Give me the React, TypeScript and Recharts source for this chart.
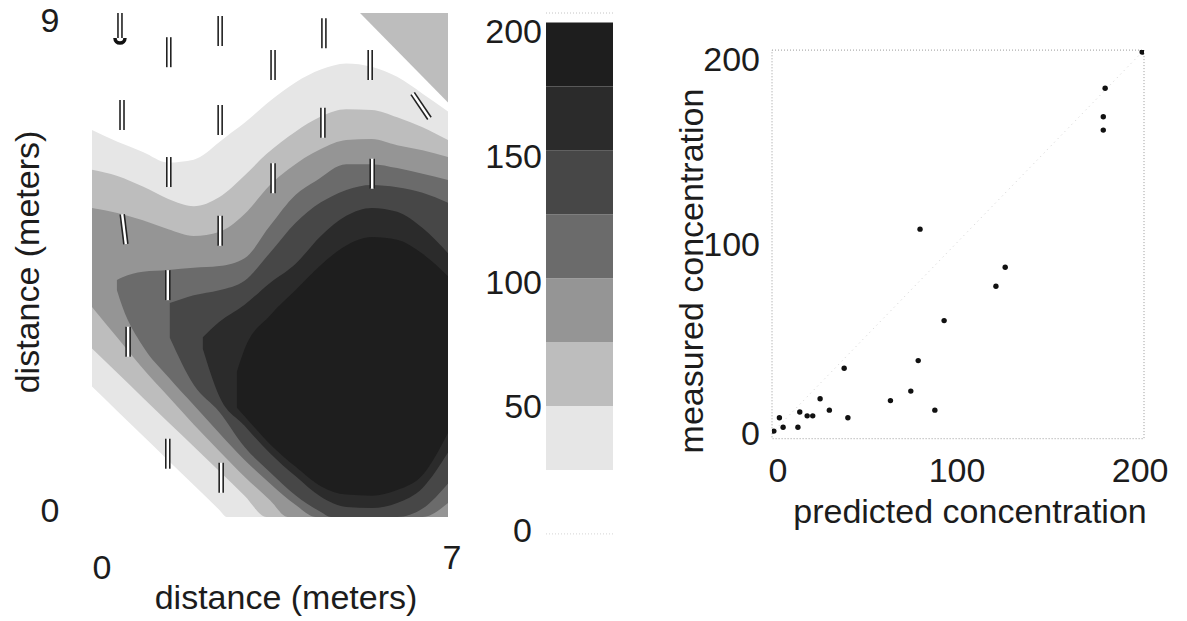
import {
  ComposedChart,
  Area,
  Scatter,
  ScatterChart,
  BarChart,
  Bar,
  XAxis,
  YAxis,
  Label,
  ReferenceLine,
  ReferenceArea,
} from 'recharts'

const FONT = '"Liberation Sans", Arial, Helvetica, sans-serif'
const INK = '#1c1c1c'
const FS = 34

// contour fills, lowest level first (25, 50, 75, 100, 125, 150, 175)
const levelFill = ['#e6e6e6', '#bdbdbd', '#959595', '#6b6b6b', '#474747', '#2b2b2b', '#1e1e1e']

// filled contour regions: x (m), lower edge and upper edge (m)
const x25 = [0, 0.5, 1, 1.5, 2, 2.5, 2.65, 3, 3.5, 4, 4.5, 5, 5.5, 6, 6.5, 7]
const lo25 = [2.33, 1.89, 1.45, 1.01, 0.57, 0.13, 0, 0, 0, 0, 0, 0, 0, 0, 0, 0]
const hi25 = [6.91, 6.7, 6.52, 6.33, 6.38, 6.69, 6.8, 7.04, 7.43, 7.76, 7.99, 8.1, 8.04, 7.86, 7.56, 7.24]

const x50 = [0, 0.5, 1, 1.5, 2, 2.5, 3, 3.43, 4, 4.5, 5, 5.5, 6, 6.5, 7]
const lo50 = [3.01, 2.57, 2.13, 1.69, 1.26, 0.82, 0.38, 0, 0, 0, 0, 0, 0, 0, 0]
const hi50 = [6.2, 6.09, 5.9, 5.68, 5.55, 5.71, 6.1, 6.48, 6.88, 7.15, 7.28, 7.27, 7.14, 6.96, 6.73]

const x75 = [0, 0.5, 1, 1.5, 2, 2.5, 3, 3.5, 3.85, 4.5, 5, 5.5, 6, 6.5, 7]
const lo75 = [3.75, 3.2, 2.65, 2.15, 1.65, 1.18, 0.72, 0.3, 0, 0, 0, 0, 0, 0, 0]
const hi75 = [5.52, 5.43, 5.3, 5.14, 5.02, 5.09, 5.41, 5.93, 6.2, 6.57, 6.73, 6.75, 6.64, 6.55, 6.43]

const x100 = [0.49, 0.6, 1, 1.5, 2, 2.5, 3, 3.5, 4, 4.4, 5, 5.5, 6, 6.5, 7]
const lo100 = [4.05, 3.75, 3.05, 2.5, 2.0, 1.5, 1.02, 0.6, 0.22, 0, 0, 0, 0, 0, 0.25]
const hi100 = [4.23, 4.28, 4.38, 4.41, 4.45, 4.48, 4.62, 5.2, 5.75, 6.0, 6.3, 6.3, 6.23, 6.13, 6.02]

const x125 = [1.53, 2, 2.5, 3, 3.5, 4, 4.5, 4.7, 5, 5.5, 6, 6.5, 7]
const lo125 = [3.2, 2.36, 1.88, 1.25, 0.8, 0.39, 0.09, 0, 0, 0, 0, 0.15, 0.6]
const hi125 = [3.82, 3.96, 4.05, 4.22, 4.72, 5.25, 5.62, 5.72, 5.84, 5.93, 5.89, 5.79, 5.61]

const x150 = [2.18, 2.5, 3, 3.5, 4, 4.5, 5, 5.5, 6, 6.5, 7]
const lo150 = [3.0, 2.16, 1.63, 1.14, 0.73, 0.36, 0.18, 0.16, 0.25, 0.52, 1.15]
const hi150 = [3.21, 3.48, 3.79, 4.18, 4.52, 5.02, 5.38, 5.52, 5.45, 5.16, 4.71]

const x175 = [2.85, 3, 3.5, 4, 4.5, 5, 5.5, 6, 6.5, 7]
const lo175 = [1.95, 1.8, 1.3, 0.9, 0.55, 0.4, 0.38, 0.48, 0.75, 1.5]
const hi175 = [2.6, 3.0, 3.6, 4.05, 4.5, 4.85, 5.0, 4.95, 4.7, 4.3]

// isolated patch in the top right corner
const xCorner = [5.27, 7]
const loCorner = [9, 7.4]
const hiCorner = [9, 9]

// sampling wells (m) and their tilt (deg)
const wellX = [0.55, 1.51, 2.52, 4.56, 3.56, 5.47, 0.59, 2.52, 4.54, 6.47, 1.51, 3.56, 5.51, 0.63, 2.52, 1.49, 0.71, 1.49, 2.54]
const wellY = [8.82, 8.3, 8.68, 8.64, 8.07, 8.07, 7.18, 7.09, 7.04, 7.34, 6.16, 6.05, 6.13, 5.14, 5.11, 4.14, 3.13, 1.13, 0.7]
const wellTilt = [0, 0, 0, 0, 0, 0, 0, 0, 0, -34, 0, 0, 0, -7, 0, 0, 0, 0, 0]
const sourceX = [0.55]
const sourceY = [8.48]

// colour bar
const cbLevels = [0, 25, 50, 75, 100, 125, 150, 175, 200]
const cbTicks = [0, 50, 100, 150, 200]

// predicted vs measured concentration
const predicted = [1, 4, 6, 14, 15, 19, 22, 26, 31, 39, 41, 64, 75, 79, 80, 88, 93, 121, 126, 179, 179, 180, 200]
const measured = [1, 8, 3, 3, 11, 9, 9, 18, 12, 34, 8, 17, 22, 38, 107, 12, 59, 77, 87, 159, 166, 181, 200]
const scatterTicks = [0, 100, 200]

const region = (xs: number[], lo: number[], hi: number[]) =>
  xs.map((x, i) => ({ x, range: [lo[i], hi[i]] }))

const regions = [
  region(x25, lo25, hi25),
  region(x50, lo50, hi50),
  region(x75, lo75, hi75),
  region(x100, lo100, hi100),
  region(x125, lo125, hi125),
  region(x150, lo150, hi150),
  region(x175, lo175, hi175),
]
const corner = region(xCorner, loCorner, hiCorner)
const wells = wellX.map((x, i) => ({ x, y: wellY[i], tilt: wellTilt[i] }))
const source = sourceX.map((x, i) => ({ x, y: sourceY[i] }))

const cbRow: Record<string, any> = { name: 'bar' }
cbLevels.slice(1).forEach((v, i) => {
  cbRow['s' + i] = v - cbLevels[i]
})
const cbFill = ['none', ...levelFill]

const points = predicted.map((p, i) => ({ p, m: measured[i] }))

const txt = { fontFamily: FONT, fontSize: FS, fill: INK }

function Well(props: any) {
  const { cx, cy, payload } = props
  if (cx == null || cy == null) return null
  return (
    <g transform={`rotate(${payload.tilt || 0} ${cx} ${cy})`}>
      <rect x={cx - 2} y={cy - 15} width={4} height={30} fill="#fff" />
      <line x1={cx - 2} y1={cy - 15} x2={cx - 2} y2={cy + 15} stroke="#222" strokeWidth={1.6} />
      <line x1={cx + 2} y1={cy - 15} x2={cx + 2} y2={cy + 15} stroke="#222" strokeWidth={1.6} />
    </g>
  )
}

function Source(props: any) {
  const { cx, cy } = props
  if (cx == null || cy == null) return null
  return (
    <path
      d={`M ${cx - 5} ${cy - 4} A 5 5 0 0 0 ${cx + 5} ${cy - 4}`}
      fill="none"
      stroke="#111"
      strokeWidth={3.5}
    />
  )
}

function Dot(props: any) {
  const { cx, cy } = props
  if (cx == null || cy == null) return null
  return <circle cx={cx} cy={cy} r={2.7} fill="#111" />
}

// tick labels: along-axis position from the axis scale, a small fixed nudge as in the original
const contourYTick = (props: any) => {
  const v = props.payload.value
  return (
    <text x={50} y={props.y + (v === 0 ? -7 : 7)} textAnchor="middle" dominantBaseline="central" {...txt}>
      {v}
    </text>
  )
}

const contourXTick = (props: any) => {
  const v = props.payload.value
  return (
    <text x={props.x + (v === 0 ? 10 : 4)} y={v === 0 ? 567 : 557} textAnchor="middle" dominantBaseline="central" {...txt}>
      {v}
    </text>
  )
}

const cbNudge: Record<number, number> = { 0: -4, 50: 0, 100: 4, 150: 6, 200: 9 }
const cbTick = (props: any) => {
  const v = props.payload.value
  return (
    <text x={v === 0 ? 532 : 542} y={props.y + (cbNudge[v] || 0)} textAnchor="end" dominantBaseline="central" {...txt}>
      {v}
    </text>
  )
}

const scYNudge: Record<number, number> = { 0: 0, 100: 2, 200: 7 }
const scatterYTick = (props: any) => {
  const v = props.payload.value
  return (
    <text x={760} y={props.y + (scYNudge[v] || 0)} textAnchor="end" dominantBaseline="central" {...txt}>
      {v}
    </text>
  )
}

const scXNudge: Record<number, number> = { 0: 6, 100: 0, 200: -2 }
const scatterXTick = (props: any) => {
  const v = props.payload.value
  return (
    <text x={props.x + (scXNudge[v] || 0)} y={470} textAnchor="middle" dominantBaseline="central" {...txt}>
      {v}
    </text>
  )
}

const layer = { position: 'absolute' as const, left: 0, top: 0 }

export default function App() {
  return (
    <div style={{ position: 'absolute', left: 0, top: 0, width: 1187, height: 621, background: '#fff', overflow: 'hidden' }}>
      {/* contour map */}
      <div style={layer}>
        <ComposedChart width={1187} height={621} margin={{ top: 13, right: 739, bottom: 0, left: 0 }}>
          <XAxis
            type="number"
            dataKey="x"
            domain={[0, 7]}
            ticks={[0, 7]}
            interval={0}
            allowDataOverflow
            height={104}
            axisLine={false}
            tickLine={false}
            tick={contourXTick}
          >
            <Label
              content={() => (
                <text x={286} y={609} textAnchor="middle" {...txt}>
                  distance (meters)
                </text>
              )}
            />
          </XAxis>
          <YAxis
            type="number"
            domain={[0, 9]}
            ticks={[0, 9]}
            interval={0}
            allowDataOverflow
            width={92}
            axisLine={false}
            tickLine={false}
            tick={contourYTick}
          >
            <Label
              content={() => (
                <text
                  x={27}
                  y={262}
                  transform="rotate(-90 27 262)"
                  textAnchor="middle"
                  dominantBaseline="central"
                  {...txt}
                >
                  distance (meters)
                </text>
              )}
            />
          </YAxis>
          {regions.map((data, i) => (
            <Area
              key={i}
              data={data}
              dataKey="range"
              type="monotone"
              stroke="none"
              fill={levelFill[i]}
              fillOpacity={1}
              isAnimationActive={false}
            />
          ))}
          <Area
            data={corner}
            dataKey="range"
            type="linear"
            stroke="none"
            fill={levelFill[1]}
            fillOpacity={1}
            isAnimationActive={false}
          />
          <Scatter data={wells} dataKey="y" shape={Well} isAnimationActive={false} />
          <Scatter data={source} dataKey="y" shape={Source} isAnimationActive={false} />
        </ComposedChart>
      </div>

      {/* colour bar */}
      <div style={layer}>
        <BarChart
          width={1187}
          height={621}
          data={[cbRow]}
          margin={{ top: 13, right: 574, bottom: 87.1, left: 480 }}
          barCategoryGap={0}
          barGap={0}
        >
          <XAxis dataKey="name" hide />
          <YAxis
            type="number"
            domain={[0, 203.7]}
            ticks={cbTicks}
            interval={0}
            allowDataOverflow
            width={66}
            axisLine={false}
            tickLine={false}
            tick={cbTick}
          />
          {cbFill.map((c, i) => (
            <Bar key={i} dataKey={'s' + i} stackId="cb" fill={c} isAnimationActive={false} />
          ))}
          <ReferenceLine y={203.7} stroke="#c4c4c4" strokeDasharray="1 2" />
          <ReferenceLine y={0} stroke="#d4d4d4" strokeDasharray="1 2" />
        </BarChart>
      </div>

      {/* predicted vs measured */}
      <div style={layer}>
        <ScatterChart width={1187} height={621} margin={{ top: 50.1, right: 43, bottom: 0, left: 640 }}>
          <XAxis
            type="number"
            dataKey="p"
            domain={[0, 201]}
            ticks={scatterTicks}
            interval={0}
            allowDataOverflow
            height={182.3}
            axisLine={false}
            tickLine={false}
            tick={scatterXTick}
          >
            <Label
              content={() => (
                <text x={970} y={523} textAnchor="middle" {...txt}>
                  predicted concentration
                </text>
              )}
            />
          </XAxis>
          <YAxis
            type="number"
            dataKey="m"
            domain={[-3, 201]}
            ticks={scatterTicks}
            interval={0}
            allowDataOverflow
            width={132}
            axisLine={false}
            tickLine={false}
            tick={scatterYTick}
          >
            <Label
              content={() => (
                <text
                  x={691}
                  y={271}
                  transform="rotate(-90 691 271)"
                  textAnchor="middle"
                  dominantBaseline="central"
                  {...txt}
                >
                  measured concentration
                </text>
              )}
            />
          </YAxis>
          <ReferenceArea x1={0} x2={201} y1={-3} y2={201} fill="none" stroke="#9a9a9a" strokeDasharray="1 2" />
          <ReferenceLine
            segment={[
              { x: 0, y: 0 },
              { x: 200, y: 200 },
            ]}
            stroke="#d2d2d2"
            strokeDasharray="1 4"
          />
          <Scatter data={points} shape={Dot} isAnimationActive={false} />
        </ScatterChart>
      </div>
    </div>
  )
}
